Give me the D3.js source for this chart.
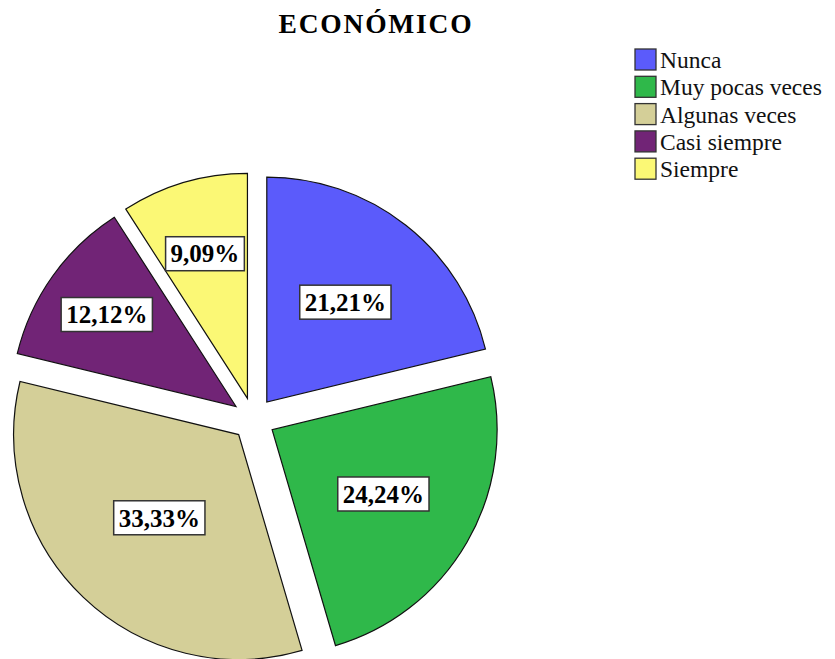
<!DOCTYPE html>
<html>
<head>
<meta charset="utf-8">
<script src="https://cdn.jsdelivr.net/npm/d3@7"></script>
<style>
  html, body { margin: 0; padding: 0; background: #fff; }
  svg { display: block; }
</style>
</head>
<body>
<svg id="chart" width="835" height="659"></svg>
<script>
// ---- data ----
const title = "ECONÓMICO";
const categories = ["Nunca", "Muy pocas veces", "Algunas veces", "Casi siempre", "Siempre"];
const values = [21.21, 24.24, 33.33, 12.12, 9.09];
const valueLabels = ["21,21%", "24,24%", "33,33%", "12,12%", "9,09%"];

// ---- style ----
const colors = ["#5b5bfb", "#2fb84a", "#d4cf98", "#712476", "#fbf875"];
const labelRadiusFrac = [0.565, 0.571, 0.511, 0.705, 0.67];

const W = 835, H = 659;
const cx = 253.5, cy = 419, R = 225, explode = 21.5;

const svg = d3.select("#chart");

svg.append("text")
  .attr("x", 376).attr("y", 33)
  .attr("text-anchor", "middle")
  .attr("font-family", "'Liberation Serif', 'Times New Roman', serif")
  .attr("font-weight", "bold")
  .attr("font-size", 27.5)
  .attr("letter-spacing", 1.8)
  .text(title);

const pie = d3.pie().sort(null).value(d => d)(values);
const arc = d3.arc().innerRadius(0).outerRadius(R);
const color = d3.scaleOrdinal().domain(categories).range(colors);

const g = svg.append("g").attr("transform", `translate(${cx},${cy})`);

const slices = g.selectAll("g.slice").data(pie).join("g")
  .attr("class", "slice")
  .attr("transform", d => {
    const m = (d.startAngle + d.endAngle) / 2;
    return `translate(${explode * Math.sin(m)},${-explode * Math.cos(m)})`;
  });

slices.append("path")
  .attr("d", arc)
  .attr("fill", (d, i) => color(categories[i]))
  .attr("stroke", "#111")
  .attr("stroke-width", 1.2)
  .attr("stroke-linejoin", "miter");

slices.each(function(d, i) {
  const m = (d.startAngle + d.endAngle) / 2;
  const lr = R * labelRadiusFrac[i];
  const x = lr * Math.sin(m), y = -lr * Math.cos(m);
  const lg = d3.select(this).append("g").attr("transform", `translate(${x},${y})`);
  const rect = lg.append("rect").attr("fill", "#fff").attr("stroke", "#333").attr("stroke-width", 1.5);
  const t = lg.append("text")
    .attr("text-anchor", "middle")
    .attr("dy", "0.35em")
    .attr("font-family", "'Liberation Serif', 'Times New Roman', serif")
    .attr("font-weight", "bold")
    .attr("font-size", 25)
    .text(valueLabels[i]);
  const bb = t.node().getBBox();
  const w = bb.width + 10, h = 34;
  rect.attr("x", -w / 2).attr("y", -h / 2).attr("width", w).attr("height", h);
});

// legend
const legend = svg.append("g").attr("transform", "translate(635,49)");
const rows = legend.selectAll("g").data(categories).join("g")
  .attr("transform", (d, i) => `translate(0,${i * 27.3})`);
rows.append("rect")
  .attr("width", 21).attr("height", 21)
  .attr("fill", d => color(d))
  .attr("stroke", "#333").attr("stroke-width", 1.3);
rows.append("text")
  .attr("x", 25).attr("y", 19)
  .attr("font-family", "'Liberation Serif', 'Times New Roman', serif")
  .attr("font-size", 23.5)
  .attr("fill", "#111")
  .text(d => d);
</script>
</body>
</html>
